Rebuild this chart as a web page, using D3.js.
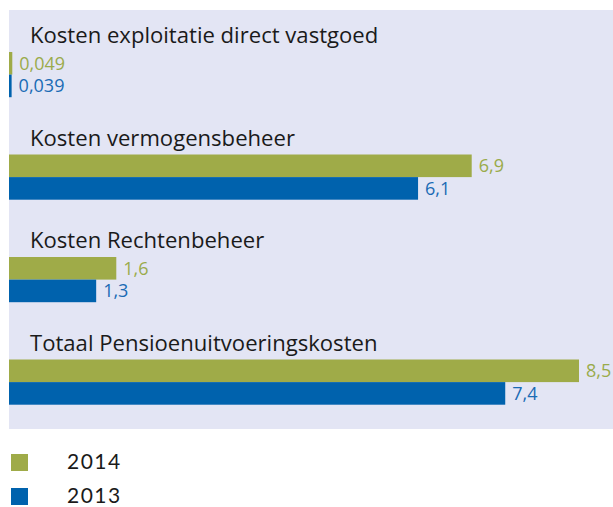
<!DOCTYPE html>
<html><head><meta charset="utf-8">
<script src="https://cdn.jsdelivr.net/npm/d3@7"></script>
<style>body{margin:0;background:#fff;}svg{display:block;}</style>
</head><body>
<svg id="c" width="613" height="507"></svg>
<script>
const categories = ["Kosten exploitatie direct vastgoed","Kosten vermogensbeheer","Kosten Rechtenbeheer","Totaal Pensioenuitvoeringskosten"];
const values2014 = [0.049, 6.9, 1.6, 8.5];
const values2013 = [0.039, 6.1, 1.3, 7.4];
const labels2014 = ["0,049","6,9","1,6","8,5"];
const labels2013 = ["0,039","6,1","1,3","7,4"];
const seriesNames = ["2014","2013"];
const colors = ["#9fab48","#0062ad"];
const textColors = ["#9aab4b","#1a6bb4"];

const svg = d3.select("#c");
const font = "'Open Sans', 'Noto Sans', sans-serif";
svg.append("rect").attr("x",9).attr("y",10).attr("width",604).attr("height",419).attr("fill","#e3e5f4");

const x = d3.scaleLinear().domain([0,8.5]).range([9,579]);
const y = d3.scaleBand().domain(categories).range([52,462]);
const barH = 22.6;

const g = svg.selectAll("g.grp").data(categories).enter().append("g").attr("class","grp")
  .attr("transform",d=>`translate(0,${y(d)})`);
g.append("text").attr("x",30).attr("y",-9).text(d=>d)
  .attr("font-family",font).attr("font-size",22.1).attr("fill","#1a1a1a");
[values2014, values2013].forEach((vals,si)=>{
  const labs = si===0?labels2014:labels2013;
  g.append("rect").attr("x",x(0)).attr("y",si*barH).attr("height",barH)
    .attr("width",(d,i)=>x(vals[i])-x(0)).attr("fill",colors[si]);
  g.append("text").attr("x",(d,i)=>x(vals[i])+7).attr("y",si*barH+barH/2)
    .attr("dy","0.36em").text((d,i)=>labs[i])
    .attr("font-family",font).attr("font-size",18).attr("fill",textColors[si]);
});
const leg = svg.selectAll("g.leg").data(seriesNames).enter().append("g")
  .attr("transform",(d,i)=>`translate(0,${454+i*34})`);
leg.append("rect").attr("x",11).attr("y",0).attr("width",17).attr("height",17).attr("fill",(d,i)=>colors[i]);
leg.append("text").attr("x",67).attr("y",14.5).text(d=>d)
  .attr("font-family","Lato, 'Open Sans', sans-serif").attr("font-size",21).attr("letter-spacing",1.5).attr("fill","#1a1a1a");
</script>
</body></html>
